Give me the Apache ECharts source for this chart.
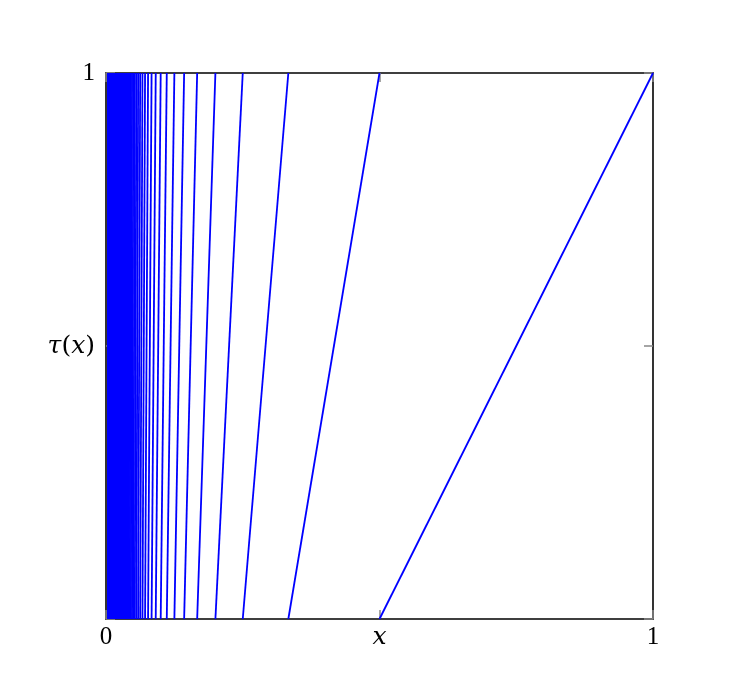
<!DOCTYPE html>
<html>
<head>
<meta charset="utf-8">
<script src="https://cdn.jsdelivr.net/npm/echarts@6/dist/echarts.min.js"></script>
<style>
  html, body { margin: 0; padding: 0; background: #fff; }
  #main { width: 748px; height: 679px; }
</style>
</head>
<body>
<div id="main"></div>
<script>
// branch n runs from x = 1/(n+1) (tau = 0) up to x = 1/n (tau = 1)
const denominators = [
  1, 2, 3, 4, 5, 6, 7, 8, 9, 10, 11, 12, 13, 14, 15, 16, 17, 18, 19, 20, 21, 22, 23, 24, 25,
  26, 27, 28, 29, 30, 31, 32, 33, 34, 35, 36, 37, 38, 39, 40, 41, 42, 43, 44, 45, 46, 47, 48, 49, 50,
  51, 52, 53, 54, 55, 56, 57, 58, 59, 60, 61, 62, 63, 64, 65, 66, 67, 68, 69, 70, 71, 72, 73, 74, 75,
  76, 77, 78, 79, 80, 81, 82, 83, 84, 85, 86, 87, 88, 89, 90, 91, 92, 93, 94, 95, 96, 97, 98, 99, 100,
  101, 102, 103, 104, 105, 106, 107, 108, 109, 110, 111, 112, 113, 114, 115, 116, 117, 118, 119, 120,
  121, 122, 123, 124, 125, 126, 127, 128, 129, 130, 131, 132, 133, 134, 135, 136, 137, 138, 139, 140,
  141, 142, 143, 144, 145, 146, 147, 148, 149, 150, 151, 152, 153, 154, 155, 156, 157, 158, 159, 160,
  161, 162, 163, 164, 165, 166, 167, 168, 169, 170, 171, 172, 173, 174, 175, 176, 177, 178, 179, 180,
  181, 182, 183, 184, 185, 186, 187, 188, 189, 190, 191, 192, 193, 194, 195, 196, 197, 198, 199, 200,
  201, 202, 203, 204, 205, 206, 207, 208, 209, 210, 211, 212, 213, 214, 215, 216, 217, 218, 219, 220,
  221, 222, 223, 224, 225, 226, 227, 228, 229, 230, 231, 232, 233, 234, 235, 236, 237, 238, 239, 240,
  241, 242, 243, 244, 245, 246, 247, 248, 249, 250, 251
];
const xTickLabels = { '0': '{n|0}', '0.5': '{i|x}', '1': '{n|1}' };
const yTickLabels = { '0': '', '0.5': '{i|τ}{p|(}{i|x}{p|)}', '1': '{n|1}' };

const font = 'Liberation Serif';
const mathFont = 'DejaVu Serif';

const branches = [];
for (let k = 0; k < denominators.length - 1; k++) {
  branches.push({ coords: [[1 / denominators[k + 1], 0], [1 / denominators[k], 1]] });
}

const labelRich = {
  n: { fontFamily: font, fontSize: 25, color: '#000' },
  i: { fontFamily: mathFont, fontStyle: 'italic', fontSize: 25, color: '#000' },
  p: { fontFamily: mathFont, fontSize: 25, color: '#000' }
};
const tickStyle = { show: true, inside: true, length: 9, lineStyle: { color: '#888', width: 1.5 } };
const lineStyle = { show: true, onZero: false, lineStyle: { color: '#000', width: 1.6 } };

const chart = echarts.init(document.getElementById('main'));
chart.setOption({
  animation: false,
  grid: { left: 106, right: 95, top: 73, bottom: 60 },
  xAxis: [
    {
      type: 'value', min: 0, max: 1, interval: 0.5, position: 'bottom',
      axisLine: lineStyle, axisTick: tickStyle, splitLine: { show: false },
      axisLabel: {
        margin: 6, color: '#000', rich: labelRich,
        formatter: v => xTickLabels[String(v)]
      }
    },
    {
      type: 'value', min: 0, max: 1, interval: 0.5, position: 'top',
      axisLine: lineStyle, axisTick: tickStyle, splitLine: { show: false },
      axisLabel: { show: false }
    }
  ],
  yAxis: [
    {
      type: 'value', min: 0, max: 1, interval: 0.5, position: 'left',
      axisLine: lineStyle, axisTick: tickStyle, splitLine: { show: false },
      axisLabel: {
        margin: 11, color: '#000', rich: labelRich,
        formatter: v => yTickLabels[String(v)]
      }
    },
    {
      type: 'value', min: 0, max: 1, interval: 0.5, position: 'right',
      axisLine: lineStyle, axisTick: tickStyle, splitLine: { show: false },
      axisLabel: { show: false }
    }
  ],
  series: [{
    type: 'lines',
    coordinateSystem: 'cartesian2d',
    polyline: false,
    silent: true,
    z: 1,
    lineStyle: { color: '#0000ff', width: 1.8, opacity: 1 },
    data: branches
  }]
});
</script>
</body>
</html>
